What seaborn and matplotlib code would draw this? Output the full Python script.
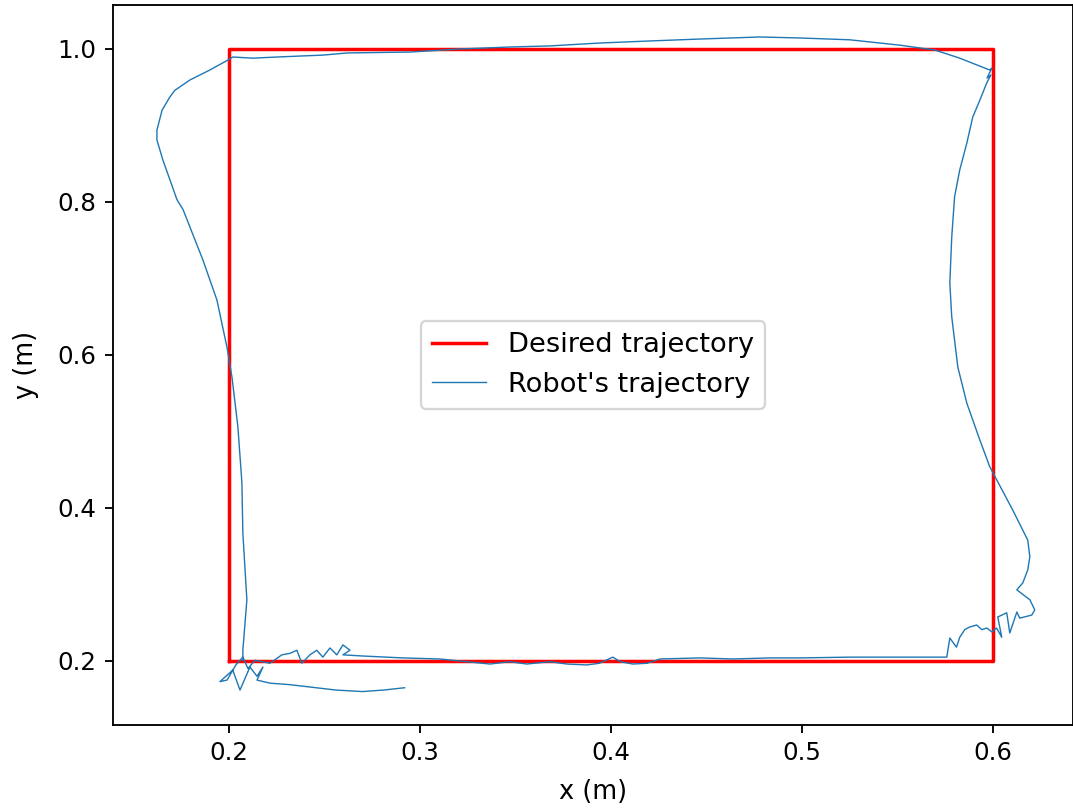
import matplotlib
matplotlib.use("Agg")
import matplotlib.pyplot as plt
import seaborn as sns
import numpy as np

# desired square path (corners)
desired_x = [0.2, 0.6, 0.6, 0.2, 0.2]
desired_y = [0.2, 0.2, 1.0, 1.0, 0.2]

# robot trajectory (m)
robot_x = [
    0.292, 0.281, 0.270, 0.256, 0.242, 0.232, 0.2215, 0.2147, 0.2178, 0.2147,
    0.211, 0.2058, 0.202, 0.1953, 0.199, 0.2037, 0.2073, 0.2100, 0.2136, 0.2215,
    0.2277, 0.232, 0.2356, 0.2382, 0.2424, 0.246, 0.2492, 0.2529, 0.2565, 0.2597,
    0.2634, 0.2597, 0.270, 0.291, 0.3105, 0.3367, 0.347, 0.356, 0.368, 0.377,
    0.3874, 0.394, 0.401, 0.405, 0.4115, 0.419, 0.4257, 0.4466, 0.4639, 0.4832,
    0.499, 0.525, 0.551, 0.5759, 0.5775, 0.581, 0.5827, 0.5853, 0.588, 0.5916,
    0.5942, 0.5969, 0.5995, 0.602, 0.6047, 0.6026, 0.6073, 0.6089, 0.6126, 0.6141,
    0.6204, 0.622, 0.6194, 0.6126, 0.6157, 0.6183, 0.6194, 0.6183, 0.6105, 0.602,
    0.5984, 0.5932, 0.5864, 0.5817, 0.5785, 0.5775, 0.5785, 0.580, 0.5827, 0.5864,
    0.5895, 0.5932, 0.5969, 0.599, 0.597, 0.5995, 0.5984, 0.5827, 0.5696, 0.5513,
    0.5251, 0.499, 0.478, 0.4466, 0.4204, 0.3942, 0.368, 0.3471, 0.321, 0.2948,
    0.2618, 0.2492, 0.2251, 0.2126, 0.2021, 0.1995, 0.190, 0.1796, 0.1717, 0.169,
    0.165, 0.1623, 0.1623, 0.1654, 0.1728, 0.176, 0.1864, 0.1937, 0.199, 0.2016,
    0.2047, 0.2068, 0.2073, 0.2094, 0.2073, 0.2073,
]
robot_y = [
    0.165, 0.162, 0.160, 0.162, 0.166, 0.169, 0.171, 0.175, 0.192, 0.180,
    0.192, 0.162, 0.188, 0.173, 0.175, 0.195, 0.205, 0.190, 0.201, 0.197,
    0.208, 0.210, 0.214, 0.197, 0.208, 0.214, 0.205, 0.217, 0.208, 0.221,
    0.214, 0.208, 0.2065, 0.204, 0.2026, 0.196, 0.199, 0.196, 0.199, 0.196,
    0.1948, 0.197, 0.205, 0.199, 0.196, 0.197, 0.2026, 0.204, 0.2026, 0.204,
    0.204, 0.205, 0.205, 0.205, 0.230, 0.218, 0.231, 0.241, 0.2445, 0.247,
    0.241, 0.243, 0.238, 0.243, 0.231, 0.2575, 0.263, 0.2366, 0.264, 0.256,
    0.260, 0.2667, 0.280, 0.293, 0.302, 0.319, 0.336, 0.358, 0.397, 0.437,
    0.454, 0.489, 0.537, 0.584, 0.650, 0.694, 0.754, 0.807, 0.842, 0.877,
    0.911, 0.933, 0.956, 0.966, 0.962, 0.975, 0.9725, 0.988, 0.9987, 1.005,
    1.012, 1.0144, 1.0157, 1.013, 1.0105, 1.0078, 1.004, 1.0026, 1.0, 0.996,
    0.9948, 0.992, 0.9895, 0.988, 0.9895, 0.9856, 0.9725, 0.9595, 0.946, 0.937,
    0.920, 0.894, 0.881, 0.855, 0.803, 0.790, 0.724, 0.672, 0.610, 0.571,
    0.506, 0.433, 0.367, 0.280, 0.214, 0.201,
]

fig = plt.figure(figsize=(1073 / 167.66, 810 / 167.66), dpi=167.66)
ax = fig.add_axes([113 / 1073, 1 - 725 / 810, 1 - 113 / 1073, (725 - 5) / 810])

sns.lineplot(x=desired_x, y=desired_y, sort=False, estimator=None,
             color="red", linewidth=1.5, label="Desired trajectory", ax=ax)
sns.lineplot(x=robot_x, y=robot_y, sort=False, estimator=None,
             color="tab:blue", linewidth=0.6, label="Robot's trajectory", ax=ax)

ax.set_xlim(0.1393, 0.642)
ax.set_ylim(0.1163, 1.0575)
ax.set_xticks([0.2, 0.3, 0.4, 0.5, 0.6])
ax.set_yticks([0.2, 0.4, 0.6, 0.8, 1.0])
ax.tick_params(labelsize=10.5)
ax.set_xlabel("x (m)", fontsize=11, labelpad=6)
ax.set_ylabel("y (m)", fontsize=11, labelpad=8)
ax.legend(loc="center", fontsize=11.7)

fig.savefig("out.png", dpi=167.66)
